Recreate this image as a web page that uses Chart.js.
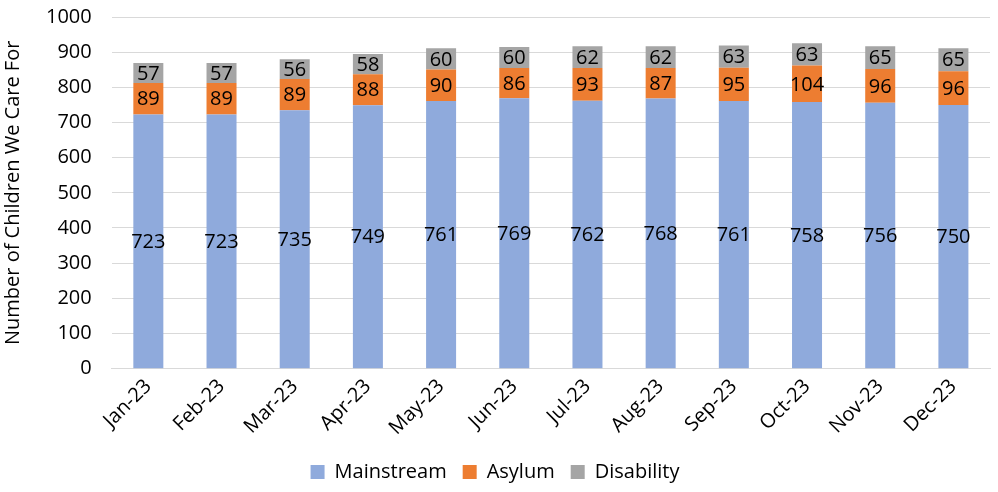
<!DOCTYPE html>
<html>
<head>
<meta charset="utf-8">
<script src="https://cdn.jsdelivr.net/npm/chart.js@4"></script>
<style>
  html, body { margin: 0; padding: 0; background: #fff; }
  #wrap { width: 998px; height: 492px; }
</style>
</head>
<body>
<div id="wrap"><canvas id="chart"></canvas></div>
<script>
const months = ["Jan-23", "Feb-23", "Mar-23", "Apr-23", "May-23", "Jun-23",
  "Jul-23", "Aug-23", "Sep-23", "Oct-23", "Nov-23", "Dec-23"];
const mainstream = [723, 723, 735, 749, 761, 769, 762, 768, 761, 758, 756, 750];
const asylum = [89, 89, 89, 88, 90, 86, 93, 87, 95, 104, 96, 96];
const disability = [57, 57, 56, 58, 60, 60, 62, 62, 63, 63, 65, 65];

const FONT = "'Open Sans', 'Liberation Sans', sans-serif";

// draws the value in the middle of each segment
const segmentLabels = {
  id: "segmentLabels",
  afterDatasetsDraw(chart) {
    const ctx = chart.ctx;
    ctx.save();
    ctx.fillStyle = "#000";
    ctx.font = "20px " + FONT;
    ctx.textAlign = "center";
    ctx.textBaseline = "middle";
    chart.data.datasets.forEach((ds, i) => {
      chart.getDatasetMeta(i).data.forEach((bar, j) => {
        const mid = (bar.y + bar.base) / 2;
        ctx.fillText(ds.data[j], bar.x, mid + 1);
      });
    });
    ctx.restore();
  }
};

new Chart(document.getElementById("chart"), {
  type: "bar",
  data: {
    labels: months,
    datasets: [
      { label: "Mainstream", data: mainstream, backgroundColor: "#8faadc" },
      { label: "Asylum", data: asylum, backgroundColor: "#ed7d31" },
      { label: "Disability", data: disability, backgroundColor: "#a5a5a5" }
    ]
  },
  options: {
    responsive: true,
    maintainAspectRatio: false,
    animation: false,
    layout: { padding: { top: 17, right: 8, left: 0, bottom: 0 } },
    datasets: { bar: { categoryPercentage: 1, barPercentage: 0.41 } },
    scales: {
      x: {
        stacked: true,
        grid: { display: false, drawTicks: false },
        border: { color: "#d9d9d9", width: 1 },
        ticks: { color: "#000", font: { size: 20, family: FONT }, maxRotation: 45, minRotation: 45, padding: 6 }
      },
      y: {
        stacked: true,
        min: 0,
        max: 1000,
        afterFit: s => { s.paddingTop = 0; s.paddingBottom = 0; },
        ticks: { stepSize: 100, color: "#000", font: { size: 20, family: FONT }, padding: 20, callback: v => String(v) },
        grid: { color: "#d9d9d9", lineWidth: 1, drawTicks: false },
        border: { display: false },
        title: { display: true, text: "Number of Children We Care For", color: "#000", font: { size: 20, family: FONT }, padding: 1 }
      }
    },
    plugins: {
      legend: {
        position: "bottom",
        labels: { color: "#000", font: { size: 20, family: FONT }, boxWidth: 14, boxHeight: 14, padding: 16 }
      },
      tooltip: { enabled: false }
    }
  },
  plugins: [segmentLabels]
});
</script>
</body>
</html>
